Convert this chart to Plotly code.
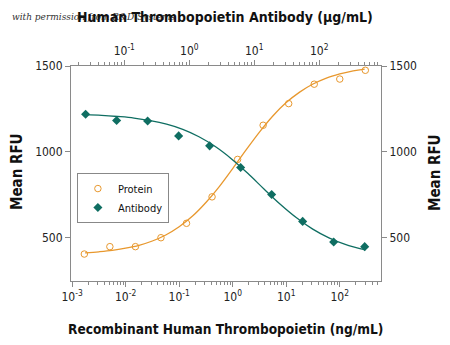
import plotly.graph_objects as go

# ---- data ----
protein_conc = [0.001694, 0.00508, 0.01524, 0.04572, 0.1372, 0.4115, 1.235, 3.704, 11.11, 33.33, 100, 300]
protein_rfu = [405, 448, 448, 500, 584, 738, 956, 1155, 1281, 1394, 1424, 1475]

antibody_conc = [0.0254, 0.0762, 0.2286, 0.686, 2.058, 6.173, 18.52, 55.56, 166.7, 500]
antibody_rfu = [1219, 1183, 1180, 1093, 1035, 909, 752, 595, 475, 448]

protein_fit_conc = [0.00175, 0.00316, 0.00562, 0.01, 0.0178, 0.0316, 0.0562, 0.1, 0.178, 0.316, 0.562,
                    1, 1.78, 3.16, 5.62, 10, 17.8, 31.6, 56.2, 100, 178, 292]
protein_fit_rfu = [412, 418, 426, 439, 456, 481, 516, 564, 626, 705, 798,
                   903, 1011, 1115, 1209, 1287, 1348, 1395, 1430, 1454, 1472, 1482]

antibody_fit_conc = [0.0248, 0.0447, 0.0794, 0.141, 0.251, 0.447, 0.794, 1.41, 2.51,
                     4.47, 7.94, 14.1, 25.1, 44.7, 79.4, 141, 251, 513]
antibody_fit_rfu = [1217, 1213, 1206, 1197, 1182, 1161, 1131, 1088, 1031,
                    959, 875, 784, 695, 616, 550, 499, 461, 429]

bottom_tickvals = [0.001, 0.01, 0.1, 1, 10, 100]
bottom_ticktext = ["10<sup>-3</sup>", "10<sup>-2</sup>", "10<sup>-1</sup>", "10<sup>0</sup>", "10<sup>1</sup>", "10<sup>2</sup>"]
top_tickvals = [0.1, 1, 10, 100]
top_ticktext = ["10<sup>-1</sup>", "10<sup>0</sup>", "10<sup>1</sup>", "10<sup>2</sup>"]
y_tickvals = [500, 1000, 1500]

minor_bottom = [m * 10.0 ** e for e in range(-3, 3) for m in range(2, 10)]
minor_top = [m * 10.0 ** e for e in range(-2, 3) for m in range(2, 10)]

ORANGE = "#E8982E"
TEAL = "#0F6E62"
AXIS = "#8a8a8a"
FONT = "DejaVu Sans Condensed, Roboto, sans-serif"

fig = go.Figure()

fig.add_trace(go.Scatter(x=protein_fit_conc, y=protein_fit_rfu, mode="lines", line=dict(color=ORANGE, width=1.3, shape="spline"),
                         showlegend=False, hoverinfo="skip"))
fig.add_trace(go.Scatter(x=antibody_fit_conc, y=antibody_fit_rfu, mode="lines", line=dict(color=TEAL, width=1.3, shape="spline"),
                         xaxis="x2", yaxis="y2", showlegend=False, hoverinfo="skip"))
fig.add_trace(go.Scatter(x=protein_conc, y=protein_rfu, mode="markers", name="Protein",
                         marker=dict(symbol="circle-open", size=6.5, color=ORANGE, line=dict(width=1))))
fig.add_trace(go.Scatter(x=antibody_conc, y=antibody_rfu, mode="markers", name="Antibody",
                         xaxis="x2", yaxis="y2",
                         marker=dict(symbol="diamond", size=7, color=TEAL)))

tickfont = dict(family=FONT, size=12, color="#222")

fig.update_layout(
    width=450, height=345,
    margin=dict(l=71, r=69, t=66, b=64),
    plot_bgcolor="white", paper_bgcolor="white",
    font=dict(family=FONT, color="#111"),
    xaxis=dict(type="log", range=[-3.02, 2.77], tickvals=bottom_tickvals, ticktext=bottom_ticktext,
               ticks="outside", ticklen=5, tickcolor=AXIS, showline=True, linecolor=AXIS, linewidth=1,
               showgrid=False, zeroline=False, tickfont=tickfont,
               minor=dict(tickvals=minor_bottom, ticks="outside", ticklen=3, tickcolor=AXIS, showgrid=False)),
    xaxis2=dict(type="log", range=[-1.82, 2.95], overlaying="x", side="top", anchor="y",
                tickvals=top_tickvals, ticktext=top_ticktext,
                ticks="outside", ticklen=5, tickcolor=AXIS, showline=True, linecolor=AXIS, linewidth=1,
                showgrid=False, zeroline=False, tickfont=tickfont,
                minor=dict(tickvals=minor_top, ticks="outside", ticklen=3, tickcolor=AXIS, showgrid=False)),
    yaxis=dict(range=[248, 1500], tickvals=y_tickvals, ticks="outside", ticklen=5, tickcolor=AXIS,
               showline=True, linecolor=AXIS, linewidth=1, showgrid=False, zeroline=False, tickfont=tickfont),
    yaxis2=dict(range=[248, 1500], overlaying="y", side="right", anchor="x", tickvals=y_tickvals,
                ticks="outside", ticklen=5, tickcolor=AXIS,
                showline=True, linecolor=AXIS, linewidth=1, showgrid=False, zeroline=False, tickfont=tickfont),
    legend=dict(x=0.019, y=0.502, xanchor="left", yanchor="top", bordercolor="#888", borderwidth=1,
                bgcolor="white", font=dict(family=FONT, size=11, color="#111"), tracegroupgap=0),
)

fig.add_annotation(text="<i>with permission from R&amp;D Systems</i>", xref="paper", yref="paper",
                   x=(10 - 71) / 310, y=(281 - 17) / 215, xanchor="left", yanchor="middle", showarrow=False,
                   font=dict(family="DejaVu Serif", size=9, color="#333"))
fig.add_annotation(text="<b>Human Thrombopoietin Antibody (µg/mL)</b>", xref="paper", yref="paper",
                   x=(225 - 71) / 310, y=(281 - 17) / 215, xanchor="center", yanchor="middle", showarrow=False,
                   font=dict(family=FONT, size=14, color="#111"))
fig.add_annotation(text="<b>Recombinant Human Thrombopoietin (ng/mL)</b>", xref="paper", yref="paper",
                   x=(225 - 71) / 310, y=(281 - 329) / 215, xanchor="center", yanchor="middle", showarrow=False,
                   font=dict(family=FONT, size=13.6, color="#111"))
fig.add_annotation(text="<b>Mean RFU</b>", xref="paper", yref="paper", textangle=-90,
                   x=(17 - 71) / 310, y=(281 - 172) / 215, xanchor="center", yanchor="middle", showarrow=False,
                   font=dict(family=FONT, size=15, color="#111"))
fig.add_annotation(text="<b>Mean RFU</b>", xref="paper", yref="paper", textangle=-90,
                   x=(435 - 71) / 310, y=(281 - 172) / 215, xanchor="center", yanchor="middle", showarrow=False,
                   font=dict(family=FONT, size=15, color="#111"))

fig.write_html("out.html")
